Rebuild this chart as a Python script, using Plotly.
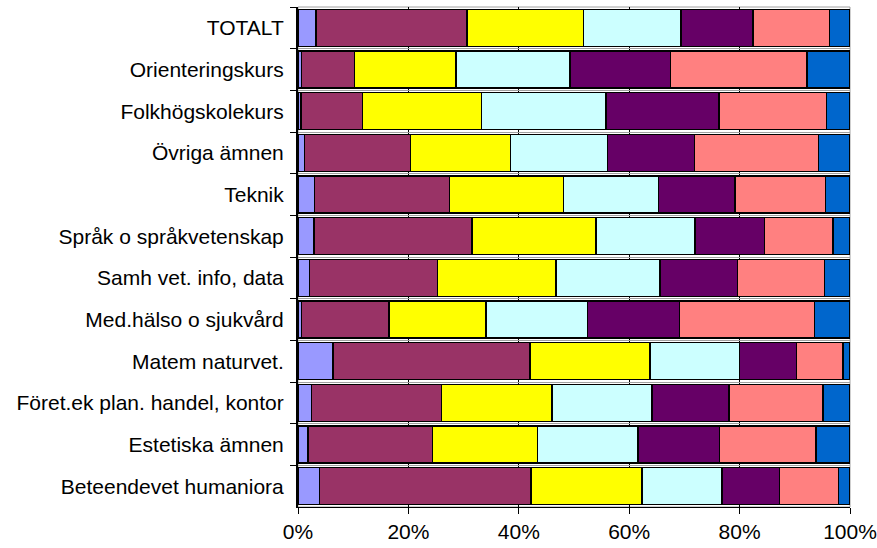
import plotly.graph_objects as go

categories = [
    "TOTALT",
    "Orienteringskurs",
    "Folkhögskolekurs",
    "Övriga ämnen",
    "Teknik",
    "Språk o språkvetenskap",
    "Samh vet. info, data",
    "Med.hälso o sjukvård",
    "Matem naturvet.",
    "Föret.ek plan. handel, kontor",
    "Estetiska ämnen",
    "Beteendevet humaniora",
]

s1 = [3.3, 0.6, 0.5, 1.15, 3.0, 2.9, 2.1, 0.6, 6.35, 2.4, 1.8, 3.9]
s2 = [27.3, 9.6, 11.2, 19.25, 24.4, 28.6, 23.2, 15.9, 35.65, 23.6, 22.6, 38.3]
s3 = [21.1, 18.4, 21.5, 18.1, 20.7, 22.5, 21.4, 17.6, 21.8, 20.0, 19.0, 20.1]
s4 = [17.7, 20.7, 22.6, 17.6, 17.2, 17.9, 18.9, 18.3, 16.2, 18.1, 18.2, 14.5]
s5 = [13.0, 18.2, 20.5, 15.7, 13.9, 12.6, 14.0, 16.7, 10.3, 14.0, 14.8, 10.4]
s6 = [13.9, 24.7, 19.4, 22.5, 16.4, 12.4, 15.8, 24.5, 8.4, 17.0, 17.4, 10.7]
s7 = [3.7, 7.8, 4.3, 5.7, 4.4, 3.1, 4.6, 6.4, 1.3, 4.9, 6.2, 2.1]

series = [s1, s2, s3, s4, s5, s6, s7]
colors = ["#9999FF", "#993366", "#FFFF00", "#CCFFFF", "#660066", "#FF8080", "#0066CC"]

fig = go.Figure()
for i, (vals, col) in enumerate(zip(series, colors)):
    fig.add_trace(go.Bar(
        y=categories, x=vals, orientation="h", name=f"S{i+1}",
        marker=dict(color=col, line=dict(color="black", width=1.5)),
        hoverinfo="x+y",
    ))

font_family = "Liberation Sans, Arial, sans-serif"
fig.update_layout(
    barmode="stack",
    barnorm="percent",
    bargap=0.11,
    showlegend=False,
    width=877, height=548,
    margin=dict(l=298, r=27, t=7, b=41, autoexpand=False),
    plot_bgcolor="white",
    paper_bgcolor="white",
    font=dict(family=font_family, size=21, color="black"),
    xaxis=dict(
        range=[0, 100], dtick=20, ticksuffix="%",
        showgrid=True, gridcolor="black", gridwidth=1,
        showline=True, linecolor="black", linewidth=1,
        ticks="outside", ticklen=6, tickcolor="black",
        zeroline=False, fixedrange=True, automargin=False,
    ),
    yaxis=dict(
        autorange="reversed",
        tickson="boundaries",
        showgrid=True, gridcolor="#A0A0A0", gridwidth=1,
        showline=True, linecolor="black", linewidth=2,
        ticks="outside", ticklen=6, tickcolor="black",
        ticklabelstandoff=8,
        fixedrange=True, automargin=False,
    ),
    shapes=[dict(type="rect", xref="paper", yref="paper", x0=0, x1=1, y0=0, y1=1,
                 line=dict(color="#A0A0A0", width=1), layer="below")],
)

fig.write_html(
    "out.html",
    config={"displayModeBar": False},
    post_script="document.body.style.margin='0';document.body.style.overflow='hidden';",
)
